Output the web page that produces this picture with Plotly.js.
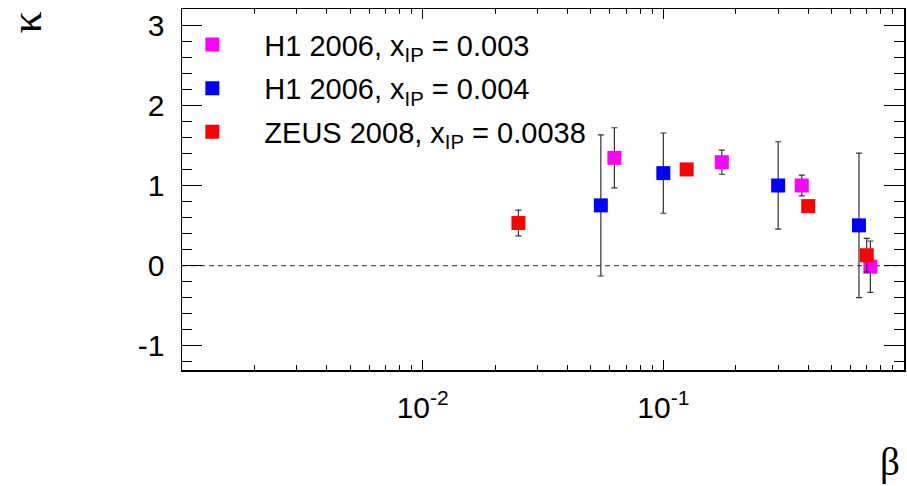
<!DOCTYPE html>
<html>
<head>
<meta charset="utf-8">
<script src="https://cdn.plot.ly/plotly-3.0.1.min.js"></script>
<style>html,body{margin:0;padding:0;background:#fff;}#chart{width:907px;height:486px;}</style>
</head>
<body>
<div id="chart"></div>
<script>
// H1 2006, x_IP = 0.003
const h1a_beta = [0.0626, 0.175, 0.376, 0.725];
const h1a_kappa = [1.345, 1.29, 1.0, -0.012];
const h1a_err = [0.375, 0.15, 0.13, 0.32];
// H1 2006, x_IP = 0.004
const h1b_beta = [0.055, 0.1, 0.3, 0.65];
const h1b_kappa = [0.752, 1.154, 1.0, 0.503];
const h1b_err = [0.88, 0.5, 0.545, 0.9];
// ZEUS 2008, x_IP = 0.0038
const zeus_beta = [0.025, 0.125, 0.4, 0.7];
const zeus_kappa = [0.532, 1.2, 0.743, 0.13];
const zeus_err = [0.16, 0.04, 0.04, 0.21];

const seriesNames = ['H1 2006, x<sub>IP</sub> = 0.003', 'H1 2006, x<sub>IP</sub> = 0.004', 'ZEUS 2008, x<sub>IP</sub> = 0.0038'];
const xTickVals = [0.01, 0.1];
const xTickText = ['10<sup>-2</sup>', '10<sup>-1</sup>'];
const yTickVals = [-1, 0, 1, 2, 3];
const yTickText = ['-1', '0', '1', '2', '3'];

function mk(x, y, e, name, color, grp) {
  return {
    type: 'scatter', mode: 'markers', x: x, y: y, name: name,
    legendgroup: grp,
    marker: {symbol: 'square', size: 14, color: color, line: {width: 0}},
    error_y: {type: 'data', array: e, visible: true, color: '#333', thickness: 1.2, width: 3}
  };
}

const data = [
  mk(h1a_beta, h1a_kappa, h1a_err, seriesNames[0], '#ff00ff', 'a'),
  mk(h1b_beta, h1b_kappa, h1b_err, seriesNames[1], '#0000ff', 'b'),
  mk(zeus_beta, zeus_kappa, zeus_err, seriesNames[2], '#ff0000', 'c')
];

const fam = '"Liberation Sans", Arial, sans-serif';
const tickFont = {family: fam, size: 30, color: '#000'};
const legFont = {family: fam, size: 29, color: '#000'};

const layout = {
  width: 907, height: 486,
  margin: {l: 182, r: 3, t: 9, b: 116},
  paper_bgcolor: '#fff', plot_bgcolor: '#fff',
  font: legFont,
  showlegend: true,
  legend: {
    x: -0.03, y: 0.972, xanchor: 'left', yanchor: 'top',
    bgcolor: 'rgba(0,0,0,0)', borderwidth: 0,
    font: legFont, itemwidth: 94, traceorder: 'grouped', tracegroupgap: 3
  },
  xaxis: {
    type: 'log', range: [-3, 0],
    showgrid: false, zeroline: false,
    showline: true, linecolor: '#000', linewidth: 1.5, mirror: 'allticks',
    ticks: 'inside', ticklen: 10, tickcolor: '#000', tickwidth: 1,
    tickmode: 'array', tickvals: xTickVals, ticktext: xTickText,
    ticklabelstandoff: 10, tickfont: tickFont,
    minor: {ticks: 'inside', ticklen: 5, tickcolor: '#000', dtick: 'D1', showgrid: false}
  },
  yaxis: {
    range: [-1.3, 3.2],
    showgrid: false, zeroline: false,
    showline: true, linecolor: '#000', linewidth: 1.5, mirror: 'allticks',
    ticks: 'inside', ticklen: 20, tickcolor: '#000', tickwidth: 1,
    tickmode: 'array', tickvals: yTickVals, ticktext: yTickText,
    ticklabelstandoff: 10, tickfont: tickFont,
    minor: {ticks: 'inside', ticklen: 10, tickcolor: '#000', dtick: 0.2, showgrid: false}
  },
  shapes: [{
    type: 'line', xref: 'paper', yref: 'y', x0: 0, x1: 1, y0: 0, y1: 0,
    line: {color: '#555', width: 1.2, dash: '5px,4px'}, layer: 'below'
  }],
  annotations: [
    {text: 'κ', xref: 'paper', yref: 'paper', x: -0.216, y: 0.963, xanchor: 'center', yanchor: 'middle',
     showarrow: false, textangle: -90, font: {family: '"Liberation Serif", "Times New Roman", serif', size: 44, color: '#000'}},
    {text: 'β', xref: 'paper', yref: 'paper', x: 0.997, y: -0.255, xanchor: 'right', yanchor: 'middle',
     showarrow: false, font: {family: '"Liberation Serif", "Times New Roman", serif', size: 39, color: '#000'}}
  ]
};

Plotly.newPlot('chart', data, layout, {displayModeBar: false, staticPlot: true});
</script>
</body>
</html>
